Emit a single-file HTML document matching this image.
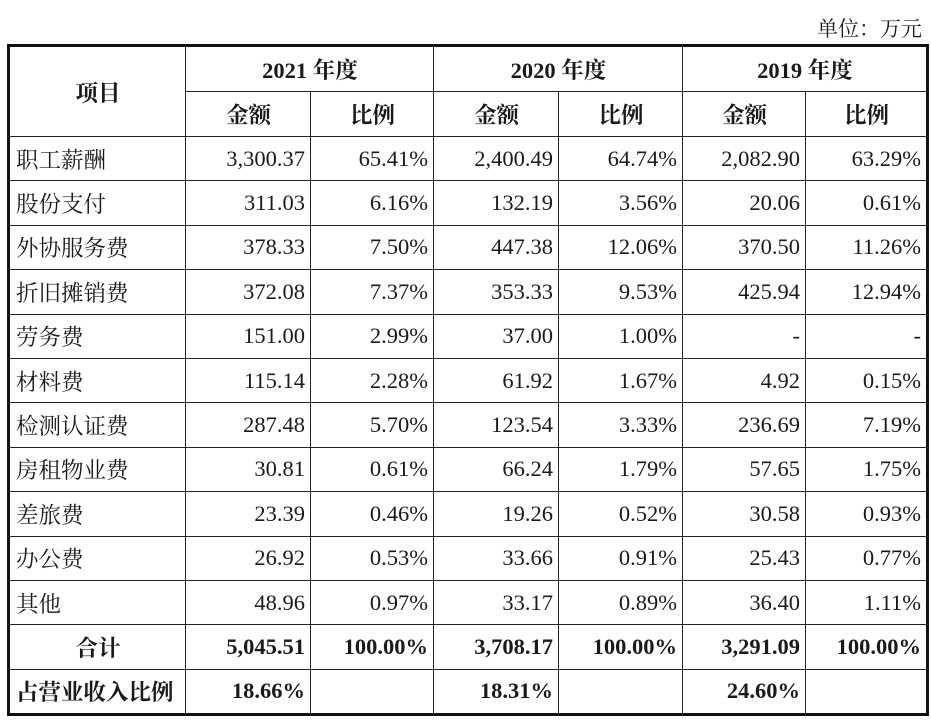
<!DOCTYPE html>
<html><head><meta charset="utf-8"><style>
body{margin:0;width:931px;height:720px;background:#fff;position:relative;overflow:hidden;font-family:"Liberation Serif","Noto Serif CJK SC",serif;color:#1a1a1a}
.unit{position:absolute;right:9px;top:13px;font-size:21px}
table{position:absolute;left:7px;top:44px;border-collapse:collapse;border:3px solid #111;table-layout:fixed}
td{border:1.5px solid #222;font-size:22.5px;padding:0 5px 0 6px;white-space:nowrap;box-sizing:border-box;overflow:hidden}
td.r{text-align:right}
td.c{text-align:center}
.b{font-weight:bold}
tr.d td{height:44.4px}
</style></head><body>
<div class="unit">单位：万元</div>
<table>
<colgroup><col style="width:177px"><col style="width:125px"><col style="width:123px"><col style="width:125px"><col style="width:124px"><col style="width:123px"><col style="width:122px"></colgroup>
<tr style="height:46px"><td rowspan="2" class="c b">项目</td><td colspan="2" class="c b">2021 年度</td><td colspan="2" class="c b">2020 年度</td><td colspan="2" class="c b">2019 年度</td></tr>
<tr style="height:45px"><td class="c b">金额</td><td class="c b">比例</td><td class="c b">金额</td><td class="c b">比例</td><td class="c b">金额</td><td class="c b">比例</td></tr>
<tr class="d"><td>职工薪酬</td><td class="r">3,300.37</td><td class="r">65.41%</td><td class="r">2,400.49</td><td class="r">64.74%</td><td class="r">2,082.90</td><td class="r">63.29%</td></tr>
<tr class="d"><td>股份支付</td><td class="r">311.03</td><td class="r">6.16%</td><td class="r">132.19</td><td class="r">3.56%</td><td class="r">20.06</td><td class="r">0.61%</td></tr>
<tr class="d"><td>外协服务费</td><td class="r">378.33</td><td class="r">7.50%</td><td class="r">447.38</td><td class="r">12.06%</td><td class="r">370.50</td><td class="r">11.26%</td></tr>
<tr class="d"><td>折旧摊销费</td><td class="r">372.08</td><td class="r">7.37%</td><td class="r">353.33</td><td class="r">9.53%</td><td class="r">425.94</td><td class="r">12.94%</td></tr>
<tr class="d"><td>劳务费</td><td class="r">151.00</td><td class="r">2.99%</td><td class="r">37.00</td><td class="r">1.00%</td><td class="r">-</td><td class="r">-</td></tr>
<tr class="d"><td>材料费</td><td class="r">115.14</td><td class="r">2.28%</td><td class="r">61.92</td><td class="r">1.67%</td><td class="r">4.92</td><td class="r">0.15%</td></tr>
<tr class="d"><td>检测认证费</td><td class="r">287.48</td><td class="r">5.70%</td><td class="r">123.54</td><td class="r">3.33%</td><td class="r">236.69</td><td class="r">7.19%</td></tr>
<tr class="d"><td>房租物业费</td><td class="r">30.81</td><td class="r">0.61%</td><td class="r">66.24</td><td class="r">1.79%</td><td class="r">57.65</td><td class="r">1.75%</td></tr>
<tr class="d"><td>差旅费</td><td class="r">23.39</td><td class="r">0.46%</td><td class="r">19.26</td><td class="r">0.52%</td><td class="r">30.58</td><td class="r">0.93%</td></tr>
<tr class="d"><td>办公费</td><td class="r">26.92</td><td class="r">0.53%</td><td class="r">33.66</td><td class="r">0.91%</td><td class="r">25.43</td><td class="r">0.77%</td></tr>
<tr class="d"><td>其他</td><td class="r">48.96</td><td class="r">0.97%</td><td class="r">33.17</td><td class="r">0.89%</td><td class="r">36.40</td><td class="r">1.11%</td></tr>
<tr class="d b"><td class="c">合计</td><td class="r">5,045.51</td><td class="r">100.00%</td><td class="r">3,708.17</td><td class="r">100.00%</td><td class="r">3,291.09</td><td class="r">100.00%</td></tr>
<tr class="b" style="height:45px"><td>占营业收入比例</td><td class="r">18.66%</td><td></td><td class="r">18.31%</td><td></td><td class="r">24.60%</td><td></td></tr>
</table>
</body></html>
